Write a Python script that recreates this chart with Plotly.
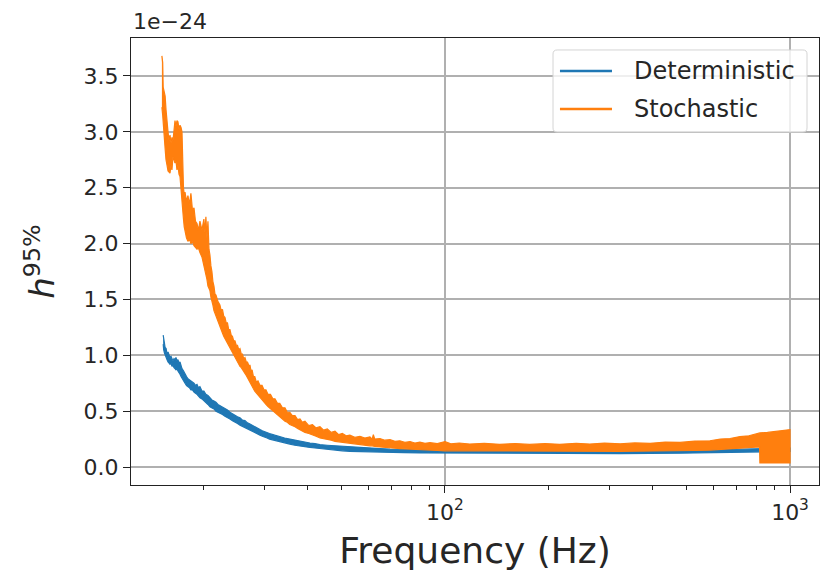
import plotly.graph_objects as go

# Upper-limit amplitude h^95% (units of 1e-24) versus frequency.
# Each search is stored as the lower and upper edge of its noisy trace.

det_freq = [15.25, 15.30, 15.38, 15.45, 15.55, 15.65, 15.75, 15.86, 15.96, 16.07,
            16.17, 16.28, 16.39, 16.50, 16.61, 16.72, 16.83, 16.95, 17.06, 17.18,
            17.29, 17.46, 17.64, 17.82, 17.99, 18.17, 18.35, 18.54, 18.73, 18.92,
            19.11, 19.30, 19.49, 19.75, 20.01, 20.28, 20.56, 20.83, 21.11, 21.40,
            21.69, 21.98, 22.27, 22.65, 23.03, 23.42, 23.81, 24.21, 24.62, 25.04,
            25.46, 25.89, 26.32, 26.77, 27.22, 27.70, 28.2, 28.65, 29.1, 29.55,
            30.0, 30.5, 31.0, 32.1, 33.2, 34.3, 35.5, 36.7, 38.0, 39.3,
            40.6, 42.0, 43.4, 45.6, 48.0, 50.4, 53.0, 56.7, 60.6, 64.8,
            69.3, 76.0, 84.6, 100, 144, 215, 322, 480, 628, 818,
            1000]
det_lo = [1.10, 1.05, 1.02, 1.00, 0.98, 0.96, 0.94, 0.93, 0.92, 0.93,
          0.90, 0.91, 0.89, 0.88, 0.87, 0.88, 0.86, 0.84, 0.83, 0.81,
          0.80, 0.77, 0.75, 0.73, 0.72, 0.71, 0.69, 0.69, 0.67, 0.66,
          0.65, 0.64, 0.62, 0.61, 0.59, 0.58, 0.56, 0.54, 0.53, 0.52,
          0.50, 0.49, 0.48, 0.47, 0.455, 0.44, 0.43, 0.415, 0.40, 0.39,
          0.375, 0.365, 0.355, 0.34, 0.33, 0.32, 0.305, 0.295, 0.285, 0.275,
          0.265, 0.26, 0.25, 0.235, 0.225, 0.215, 0.205, 0.195, 0.19, 0.18,
          0.175, 0.17, 0.165, 0.155, 0.15, 0.145, 0.14, 0.138, 0.135, 0.132,
          0.13, 0.128, 0.126, 0.124, 0.12, 0.12, 0.12, 0.124, 0.128, 0.135,
          0.14]
det_hi = [1.18, 1.15, 1.10, 1.07, 1.06, 1.01, 1.03, 0.99, 0.98, 0.99,
          0.97, 0.95, 0.97, 0.96, 0.98, 0.95, 0.96, 0.93, 0.94, 0.90,
          0.88, 0.86, 0.83, 0.81, 0.79, 0.78, 0.77, 0.76, 0.75, 0.73,
          0.74, 0.71, 0.72, 0.68, 0.68, 0.65, 0.64, 0.62, 0.60, 0.59,
          0.58, 0.56, 0.55, 0.53, 0.52, 0.51, 0.49, 0.475, 0.465, 0.45,
          0.44, 0.42, 0.415, 0.395, 0.385, 0.37, 0.36, 0.345, 0.335, 0.325,
          0.315, 0.305, 0.30, 0.285, 0.27, 0.26, 0.25, 0.24, 0.23, 0.22,
          0.215, 0.21, 0.20, 0.195, 0.19, 0.185, 0.18, 0.172, 0.168, 0.165,
          0.16, 0.158, 0.155, 0.15, 0.145, 0.145, 0.145, 0.15, 0.155, 0.165,
          0.17]

sto_freq = [15.12, 15.20, 15.25, 15.33, 15.45, 15.54, 15.65, 15.75, 15.86, 15.96,
            16.07, 16.17, 16.28, 16.39, 16.50, 16.61, 16.72, 16.83, 16.95, 17.06,
            17.18, 17.29, 17.36, 17.46, 17.55, 17.64, 17.82, 17.99, 18.17, 18.35,
            18.54, 18.73, 18.92, 19.11, 19.30, 19.49, 19.75, 20.01, 20.15, 20.28,
            20.42, 20.56, 20.70, 20.83, 20.97, 21.11, 21.25, 21.40, 21.54, 21.69,
            21.98, 22.27, 22.46, 22.65, 22.84, 23.03, 23.22, 23.42, 23.61, 23.81,
            24.01, 24.21, 24.41, 24.62, 24.83, 25.04, 25.25, 25.46, 25.68, 25.89,
            26.1, 26.32, 26.55, 26.77, 27.0, 27.22, 27.40, 27.60, 27.85, 28.10,
            28.40, 28.71, 29.1, 29.50, 29.9, 30.28, 30.7, 31.2, 31.7, 32.16,
            32.7, 33.2, 33.8, 34.38, 34.9, 35.5, 36.1, 36.75, 37.4, 38.0,
            38.6, 39.28, 40.3, 41.3, 42.3, 43.42, 44.5, 45.6, 46.8, 48.0,
            49.2, 50.4, 51.7, 53.0, 54.8, 56.7, 58.6, 60.6, 61.5, 62.0,
            62.6, 64.8, 67.0, 69.3, 71.6, 74.0, 76.5, 79.2, 81.8, 84.6,
            87.5, 90.5, 95, 100, 104, 110, 118, 130, 144, 160,
            176, 195, 215, 240, 263, 290, 322, 355, 393, 435,
            480, 530, 586, 628, 670, 716, 760, 800, 816, 818,
            860, 905, 950, 1000]
sto_lo = [3.22, 3.15, 3.12, 3.05, 2.85, 2.75, 2.70, 2.65, 2.64, 2.63,
          2.70, 2.66, 2.78, 2.76, 2.72, 2.74, 2.66, 2.70, 2.62, 2.60,
          2.50, 2.40, 2.30, 2.22, 2.15, 2.10, 2.05, 2.02, 2.04, 2.00,
          2.02, 1.98, 1.97, 1.95, 1.96, 1.92, 1.88, 1.80, 1.76, 1.72,
          1.68, 1.62, 1.60, 1.58, 1.52, 1.48, 1.45, 1.40, 1.38, 1.34,
          1.30, 1.25, 1.23, 1.20, 1.17, 1.14, 1.13, 1.10, 1.08, 1.06,
          1.04, 1.02, 1.00, 0.98, 0.96, 0.94, 0.92, 0.90, 0.89, 0.87,
          0.86, 0.84, 0.82, 0.80, 0.78, 0.76, 0.74, 0.72, 0.70, 0.68,
          0.66, 0.64, 0.62, 0.60, 0.58, 0.56, 0.54, 0.52, 0.50, 0.48,
          0.47, 0.45, 0.43, 0.41, 0.40, 0.38, 0.37, 0.36, 0.345, 0.33,
          0.32, 0.31, 0.30, 0.29, 0.275, 0.26, 0.255, 0.245, 0.24, 0.23,
          0.225, 0.22, 0.215, 0.21, 0.205, 0.20, 0.195, 0.19, 0.19, 0.19,
          0.185, 0.18, 0.175, 0.17, 0.168, 0.165, 0.162, 0.16, 0.158, 0.155,
          0.152, 0.15, 0.148, 0.145, 0.145, 0.143, 0.142, 0.14, 0.14, 0.14,
          0.14, 0.14, 0.14, 0.14, 0.14, 0.14, 0.14, 0.141, 0.142, 0.143,
          0.145, 0.148, 0.152, 0.156, 0.162, 0.168, 0.174, 0.178, 0.18, 0.036,
          0.036, 0.036, 0.036, 0.036]
sto_hi = [3.68, 3.62, 3.40, 3.36, 3.32, 3.20, 3.05, 3.00, 2.92, 2.97,
          2.90, 2.95, 2.92, 3.02, 3.10, 3.05, 3.10, 3.09, 3.02, 3.06,
          3.04, 3.00, 2.60, 2.50, 2.44, 2.46, 2.38, 2.43, 2.35, 2.45,
          2.30, 2.32, 2.20, 2.18, 2.12, 2.20, 2.12, 2.22, 2.10, 2.24,
          2.05, 2.20, 1.95, 1.90, 1.80, 1.75, 1.66, 1.62, 1.55, 1.54,
          1.48, 1.45, 1.40, 1.41, 1.35, 1.34, 1.29, 1.29, 1.23, 1.23,
          1.18, 1.17, 1.13, 1.13, 1.09, 1.09, 1.05, 1.06, 1.01, 1.01,
          0.97, 0.98, 0.94, 0.94, 0.91, 0.91, 0.86, 0.87, 0.81, 0.81,
          0.76, 0.77, 0.73, 0.73, 0.69, 0.69, 0.65, 0.65, 0.61, 0.61,
          0.57, 0.57, 0.53, 0.53, 0.49, 0.49, 0.46, 0.46, 0.425, 0.43,
          0.40, 0.41, 0.37, 0.38, 0.35, 0.36, 0.33, 0.34, 0.31, 0.32,
          0.29, 0.30, 0.28, 0.285, 0.265, 0.275, 0.26, 0.27, 0.25, 0.29,
          0.25, 0.255, 0.24, 0.245, 0.23, 0.235, 0.22, 0.228, 0.215, 0.222,
          0.212, 0.218, 0.21, 0.228, 0.208, 0.215, 0.205, 0.212, 0.203, 0.21,
          0.202, 0.21, 0.203, 0.212, 0.205, 0.214, 0.208, 0.216, 0.212, 0.222,
          0.22, 0.232, 0.235, 0.25, 0.255, 0.272, 0.28, 0.295, 0.30, 0.305,
          0.31, 0.318, 0.322, 0.335]

series = [
    ("Deterministic", "#1f77b4", det_freq, det_lo, det_hi),
    ("Stochastic", "#ff7f0e", sto_freq, sto_lo, sto_hi),
]
for _, _, f, lo, hi in series:
    assert len(f) == len(lo) == len(hi)

major_x = [100, 1000]
major_x_text = ["10<sup>2</sup>", "10<sup>3</sup>"]
minor_x = [20, 30, 40, 50, 60, 70, 80, 90, 200, 300, 400, 500, 600, 700, 800, 900]
y_ticks = [0.0, 0.5, 1.0, 1.5, 2.0, 2.5, 3.0, 3.5]
y_tick_text = ["0.0", "0.5", "1.0", "1.5", "2.0", "2.5", "3.0", "3.5"]

FONT = "DejaVu Sans"
TXT = "#262626"

fig = go.Figure()
for name, color, f, lo, hi in series:
    # band between the lower and upper edge of the noisy trace
    fig.add_trace(go.Scatter(
        x=f + f[::-1], y=hi + lo[::-1],
        mode="lines", fill="toself", fillcolor=color,
        line=dict(color=color, width=1.2),
        name=name, hoverinfo="skip", showlegend=False,
    ))

# legend box drawn in paper coordinates (top-right corner of the axes)
bx0, bx1, by0, by1 = 0.6134, 0.9826, 0.7897, 0.9732
rx, ry = 0.006, 0.009
box_path = (
    f"M{bx0+rx},{by1} L{bx1-rx},{by1} Q{bx1},{by1} {bx1},{by1-ry} "
    f"L{bx1},{by0+ry} Q{bx1},{by0} {bx1-rx},{by0} "
    f"L{bx0+rx},{by0} Q{bx0},{by0} {bx0},{by0+ry} "
    f"L{bx0},{by1-ry} Q{bx0},{by1} {bx0+rx},{by1} Z"
)
shapes = [dict(type="path", xref="paper", yref="paper", path=box_path,
               fillcolor="rgba(255,255,255,0.8)", line=dict(color="#d4d4d4", width=1),
               layer="above")]
annotations = [dict(
    xref="paper", yref="paper", x=0, y=1, xanchor="left", yanchor="bottom",
    text="1e\u221224", showarrow=False, yshift=2,
    font=dict(family=FONT, size=22, color=TXT),
)]
legend_rows = [0.9262, 0.8412]
for (name, color, *_), ly in zip(series, legend_rows):
    shapes.append(dict(type="line", xref="paper", yref="paper",
                       x0=0.6235, x1=0.6991, y0=ly, y1=ly,
                       line=dict(color=color, width=2.5), layer="above"))
    annotations.append(dict(xref="paper", yref="paper", x=0.7282, y=ly,
                            xanchor="left", yanchor="middle", text=name,
                            showarrow=False,
                            font=dict(family=FONT, size=24, color=TXT)))

fig.update_layout(
    width=824, height=577,
    margin=dict(l=131, r=5, t=38, b=92),
    paper_bgcolor="white", plot_bgcolor="white",
    font=dict(family=FONT, size=22, color=TXT),
    showlegend=False,
    shapes=shapes,
    annotations=annotations,
)

fig.update_xaxes(
    type="log", range=[1.090, 3.084],
    tickvals=major_x, ticktext=major_x_text,
    ticks="outside", ticklen=7, tickwidth=1.2, tickcolor="#222",
    showgrid=True, gridcolor="#b0b0b0", gridwidth=1.5,
    minor=dict(tickvals=minor_x, ticks="outside", ticklen=4, tickwidth=1,
               tickcolor="#222", showgrid=False),
    showline=True, linecolor="#222", linewidth=1.2, mirror=True,
    zeroline=False,
    title=dict(text="Frequency (Hz)", font=dict(family=FONT, size=36, color=TXT),
               standoff=14),
    tickfont=dict(family=FONT, size=22, color=TXT),
)
fig.update_yaxes(
    range=[-0.161, 3.84],
    tickvals=y_ticks, ticktext=y_tick_text,
    ticks="outside", ticklen=7, tickwidth=1.2, tickcolor="#222",
    showgrid=True, gridcolor="#b0b0b0", gridwidth=1.5,
    showline=True, linecolor="#222", linewidth=1.2, mirror=True,
    zeroline=False,
    title=dict(text="<i>h</i><sup>95%</sup>", font=dict(family=FONT, size=34, color=TXT),
               standoff=18),
    tickfont=dict(family=FONT, size=22, color=TXT),
)

fig.write_html("out.html")
